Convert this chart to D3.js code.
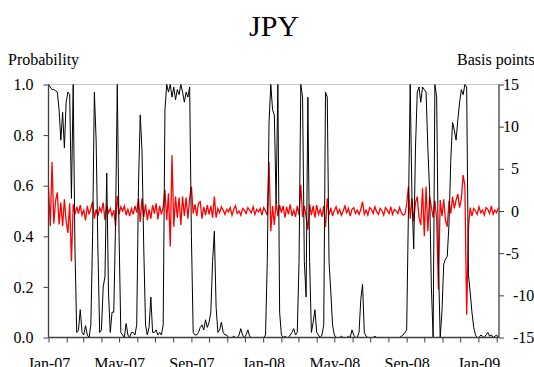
<!DOCTYPE html>
<html>
<head>
<meta charset="utf-8">
<script src="https://cdn.jsdelivr.net/npm/d3@7"></script>
<style>
  html, body { margin: 0; padding: 0; background: #fff; }
  svg { display: block; }
  text { font-family: "Liberation Serif", "Times New Roman", serif; fill: #000; }
</style>
</head>
<body>
<svg id="chart" width="534" height="367"></svg>
<script>
// Series sampled every 3 calendar days starting 1 Jan 2007
const startDate = new Date(2007, 0, 1);
const stepDays = 3;

// Regime probability (left axis)
const probability = [
  1.0, 0.99, 0.98, 0.98, 0.975, 0.97, 0.9, 0.78, 0.89, 0.75,
  0.93, 0.97, 0.96, 0.55, 1.0, 0.35, 0.02, 0.03, 0.11, 0.02,
  0.01, 0.047, 0.01, 0.0, 0.05, 0.4, 0.97, 0.78, 0.35, 0.02,
  0.03, 0.2, 0.24, 0.65, 0.18, 0.02, 0.1, 0.1, 0.45, 1.0,
  0.4, 0.02, 0.01, 0.0, 0.055, 0.01, 0.0, 0.02, 0.02, 0.01,
  0.05, 0.6, 0.88, 0.74, 0.35, 0.05, 0.01, 0.04, 0.16, 0.02,
  0.02, 0.03, 0.01, 0.02, 0.01, 0.05, 0.9, 1.0, 0.97, 1.0,
  0.95, 0.99, 0.94, 0.98, 0.96, 1.0, 0.97, 0.93, 0.97, 0.95,
  0.99, 0.4, 0.02, 0.01, 0.01, 0.02, 0.04, 0.05, 0.03, 0.07,
  0.04, 0.06, 0.1, 0.3, 0.42, 0.12, 0.02, 0.03, 0.06, 0.02,
  0.01, 0.01, 0.0, 0.0, 0.0, 0.005, 0.0, 0.0, 0.01, 0.035,
  0.01, 0.0, 0.01, 0.03, 0.005, 0.0, 0.0, 0.0, 0.0, 0.0,
  0.0, 0.0, 0.0, 0.01, 0.3, 0.85, 1.0, 0.9, 0.88, 0.53,
  1.0, 0.1, 0.01, 0.0, 0.005, 0.0, 0.0, 0.01, 0.02, 0.035,
  0.01, 0.02, 0.3, 1.0, 0.95, 0.3, 0.16, 0.95, 0.3, 0.02,
  0.06, 0.11, 0.02, 0.01, 0.0, 0.01, 0.05, 0.97, 0.95, 0.3,
  0.18, 0.05, 0.01, 0.0, 0.0, 0.0, 0.005, 0.0, 0.0, 0.0,
  0.005, 0.0, 0.03, 0.01, 0.0, 0.0, 0.02, 0.15, 0.21, 0.02,
  0.005, 0.0, 0.0, 0.0, 0.0, 0.005, 0.0, 0.0, 0.0, 0.0,
  0.0, 0.0, 0.0, 0.0, 0.0, 0.0, 0.0, 0.0, 0.0, 0.0,
  0.005, 0.01, 0.02, 0.03, 0.5, 1.0, 0.55, 0.35, 0.75, 0.97,
  0.99, 0.93, 0.99, 0.98, 0.97, 0.75, 0.58, 0.2, 0.0, 1.0,
  0.95, 0.3, 0.0, 0.1, 0.29, 0.31, 0.32, 0.45, 0.7, 0.85,
  0.82, 0.78, 0.86, 0.93, 0.98, 0.96, 1.0, 0.99, 0.25, 0.18,
  0.1, 0.04, 0.01, 0.0, 0.0, 0.01, 0.005, 0.0, 0.01, 0.02,
  0.005, 0.01, 0.0, 0.005, 0.01, 0.0
];

// Changes in basis points (right axis)
const basisPoints = [
  2.8, -1.8, 5.8, -1.5, 1.2, 2.2, -1.6, 1.0, -1.8, 1.4, -1.2, -2.6, 0.9, -6.0, 0.8, -0.4,
  0.5, -0.3, 0.7, -0.5, 0.1, -1.1, 0.6, -0.4, 0.3, 1.1, -0.9, 0.2, -0.6, 0.4, -0.1, 1.0,
  -1.1, 0.6, -0.2, 0.3, -0.6, 0.1, -1.8, 1.8, -0.4, 0.5, 0.0, 0.6, -0.5, 0.2, -0.6, 0.3,
  -0.4, 0.6, -0.2, 1.5, -1.3, 1.5, -0.7, 0.8, -1.1, 0.2, -0.9, 0.7, -0.3, 0.9, -1.0, 0.6,
  -0.4, 0.5, 2.5, -1.1, 2.1, -4.2, 6.6, -1.85, 1.7, -0.8, 1.6, -1.65, 1.7, -0.6, 1.6, -0.9,
  1.5, 2.9, -0.3, 0.8, -0.6, 0.9, 1.1, -0.9, 0.5, -0.5, 0.7, -0.4, 0.6, -0.8, 1.7, -0.8,
  0.3, -0.2, 0.5, 0.1, -0.4, 0.2, -0.1, 0.4, -0.5, 0.2, 0.6, -0.3, 0.0, -0.5, 0.3, 0.1,
  -0.3, 0.4, 0.1, -0.2, 0.5, -0.4, 0.2, -0.1, 0.3, -0.5, 0.4, 0.0, -0.5, 5.8, -2.4, 0.6,
  -1.65, 1.1, -0.6, 0.7, -0.2, 0.6, -0.8, 0.5, -0.4, 0.8, -0.6, 0.1, -0.7, 0.6, -0.5, 3.1,
  -0.7, 0.6, -0.7, -2.2, 0.8, -0.5, 0.6, -0.8, 0.7, -0.4, 0.2, -0.7, 0.6, -1.9, 1.5, -0.5,
  0.4, -0.6, 0.1, 0.5, -0.3, 0.2, -0.5, 0.0, 0.6, -0.2, 0.3, -0.6, 0.2, 0.4, -0.3, 0.1,
  -0.4, 0.2, 1.1, -0.4, 0.1, -0.5, 0.4, 0.2, -0.3, 0.5, -0.1, -0.4, 0.3, 0.0, -0.5, 0.4,
  0.1, -0.3, 0.5, -0.4, 0.2, 0.0, -0.3, 0.4, -0.2, -0.5, -0.4, 0.8, 2.9, -0.9, 1.5, -1.2,
  1.0, 1.7, -0.8, -1.65, 2.7, -3.0, 2.9, -2.4, 1.7, 0.5, -0.8, 1.2, -1.0, -9.3, 1.3, -0.6,
  1.4, -1.1, -1.85, 1.2, -0.3, 1.7, 0.3, 1.3, 2.0, 0.4, 1.5, 4.25, 3.0, -12.3, -2.0, 0.4,
  -0.6, 0.3, 0.0, -0.4, 0.5, -0.2, 0.1, -0.5, 0.4, 0.2, -0.3, 0.6, -0.4, 0.1, -0.2, 0.4
];

const probTicks = [0, 0.2, 0.4, 0.6, 0.8, 1.0];
const bpTicks = [-15, -10, -5, 0, 5, 10, 15];
const dateLabels = ["Jan-07", "May-07", "Sep-07", "Jan-08", "May-08", "Sep-08", "Jan-09"];

const svg = d3.select("#chart");
const plotLeft = 48.5, plotRight = 499, plotTop = 84.5, plotBottom = 337.5;
const axisColor = "#404040";

const x = d3.scaleTime()
  .domain([startDate, new Date(2009, 1, 5)])
  .range([plotLeft, plotRight]);
const yP = d3.scaleLinear().domain([0, 1]).range([plotBottom, plotTop]);
const yB = d3.scaleLinear().domain([-15, 15]).range([plotBottom, plotTop]);

const dateAt = i => d3.timeDay.offset(startDate, i * stepDays);

// Title and axis captions
svg.append("text").attr("x", 274).attr("y", 36).attr("text-anchor", "middle")
  .style("font-size", "30px").text("JPY");
svg.append("text").attr("x", 8).attr("y", 65).style("font-size", "16px").text("Probability");
svg.append("text").attr("x", 457).attr("y", 65).style("font-size", "16px").text("Basis points");

// Light frame line along the top of the plot
svg.append("line").attr("x1", plotLeft).attr("x2", plotRight).attr("y1", plotTop).attr("y2", plotTop)
  .attr("stroke", "#c8c8c8").attr("stroke-width", 1);

// Basis point changes (drawn underneath)
svg.append("path")
  .datum(basisPoints)
  .attr("fill", "none")
  .attr("stroke", "#ff0000")
  .attr("stroke-width", 1.3)
  .attr("d", d3.line().x((d, i) => x(dateAt(i))).y(d => yB(d)));

// Probability line on top
svg.append("path")
  .datum(probability)
  .attr("fill", "none")
  .attr("stroke", "#000")
  .attr("stroke-width", 1)
  .attr("d", d3.line().x((d, i) => x(dateAt(i))).y(d => yP(d)));

// Left axis
const gL = svg.append("g").attr("transform", `translate(${plotLeft},0)`)
  .call(d3.axisLeft(yP).tickValues(probTicks).tickFormat(d3.format(".1f")).tickSize(5).tickPadding(10));
// Right axis
const gR = svg.append("g").attr("transform", `translate(${plotRight},0)`)
  .call(d3.axisRight(yB).tickValues(bpTicks).tickFormat(d => d < 0 ? "-" + Math.abs(d) : d).tickSize(5));
// Bottom axis: monthly ticks, label every fourth month
const months = d3.timeMonth.range(startDate, new Date(2009, 1, 2));
const gB = svg.append("g").attr("transform", `translate(0,${plotBottom})`)
  .call(d3.axisBottom(x).tickValues(months).tickSize(5).tickPadding(10)
    .tickFormat(d => {
      const s = d3.timeFormat("%b-%y")(d);
      return dateLabels.includes(s) ? s : "";
    }));

[gL, gR, gB].forEach(g => {
  g.selectAll("path.domain").attr("stroke", axisColor).attr("stroke-width", 1.3);
  g.selectAll(".tick line").attr("stroke", axisColor);
  g.selectAll("text").style("font-size", "16px").attr("fill", "#000")
    .style("font-family", "'Liberation Serif', serif");
});
gL.select("path.domain").attr("d", `M0,${plotTop}V${plotBottom}`);
gR.select("path.domain").attr("d", `M0,${plotTop}V${plotBottom}`);
gB.select("path.domain").attr("d", `M${plotLeft},0H${plotRight}`);
gB.selectAll(".tick text").attr("dy", "0.71em").attr("y", 20);
// Right labels: right-aligned, the two widest negatives start just past the tick
gR.selectAll(".tick text")
  .attr("text-anchor", d => d <= -10 ? "start" : "end")
  .attr("x", d => d <= -10 ? 14 : 20);
</script>
</body>
</html>
